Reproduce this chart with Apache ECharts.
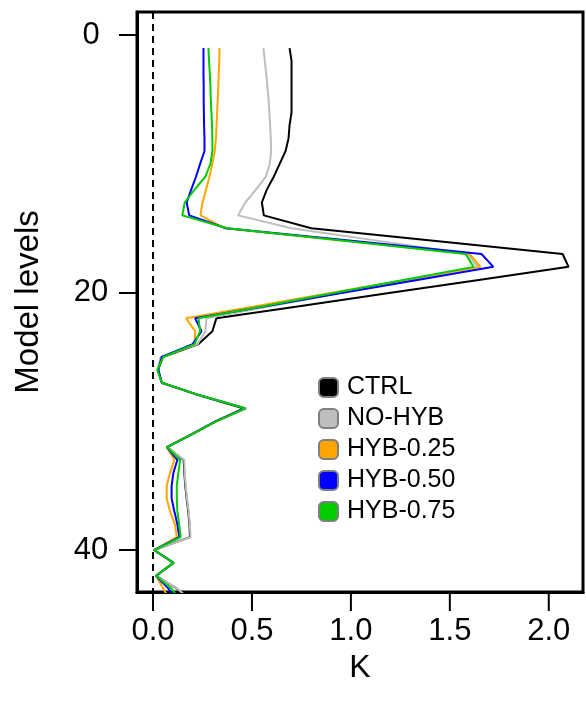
<!DOCTYPE html>
<html>
<head>
<meta charset="utf-8">
<script src="https://cdn.jsdelivr.net/npm/echarts@6/dist/echarts.min.js"></script>
<style>html,body{margin:0;padding:0;background:#fff}#c{width:586px;height:706px}</style>
</head>
<body>
<div id="c"></div>
<script>
const levels = [1,2,3,4,5,6,7,8,9,10,11,12,13,14,15,16,17,18,19,20,21,22,23,24,25,26,27,28,29,30,31,32,33,34,35,36,37,38,39,40,41,42,43,44];
const seriesNames = ['CTRL','NO-HYB','HYB-0.25','HYB-0.50','HYB-0.75'];
const colors = ['#000000','#bebebe','#ffa500','#0000ff','#00cd00'];
const ctrl = [0.69,0.70,0.70,0.70,0.70,0.70,0.69,0.685,0.67,0.64,0.61,0.575,0.55,0.56,0.80,1.43,2.07,2.10,1.655,1.21,0.765,0.32,0.30,0.23,0.05,0.025,0.044,0.24,0.47,0.318,0.198,0.071,0.155,0.158,0.163,0.17,0.178,0.184,0.187,0.006,0.105,0.016,0.12,0.2];
const noHyb = [0.558,0.565,0.572,0.578,0.584,0.588,0.592,0.595,0.597,0.59,0.57,0.52,0.466,0.43,0.70,1.15,1.59,1.64,1.2975,0.955,0.6125,0.27,0.265,0.225,0.038,0.022,0.044,0.24,0.47,0.318,0.198,0.072,0.158,0.16,0.165,0.172,0.18,0.186,0.19,0.006,0.105,0.016,0.122,0.2];
const hyb025 = [0.336,0.335,0.332,0.33,0.327,0.324,0.321,0.318,0.312,0.30,0.285,0.268,0.25,0.24,0.36,0.985,1.60,1.655,1.283,0.911,0.539,0.167,0.213,0.21,0.05,0.025,0.044,0.238,0.457,0.314,0.196,0.069,0.108,0.086,0.069,0.069,0.086,0.111,0.12,0.005,0.103,0.015,0.052,0.09];
const hyb050 = [0.255,0.255,0.255,0.256,0.256,0.257,0.258,0.26,0.26,0.238,0.217,0.193,0.17,0.183,0.37,1.015,1.66,1.72,1.343,0.967,0.59,0.213,0.245,0.20,0.044,0.027,0.044,0.238,0.46,0.315,0.197,0.07,0.123,0.103,0.094,0.094,0.108,0.123,0.133,0.005,0.103,0.015,0.078,0.12];
const hyb075 = [0.28,0.283,0.287,0.29,0.292,0.295,0.298,0.30,0.30,0.29,0.264,0.21,0.16,0.148,0.375,0.975,1.58,1.62,1.2725,0.925,0.5775,0.23,0.238,0.21,0.052,0.022,0.044,0.24,0.466,0.318,0.198,0.07,0.137,0.128,0.12,0.12,0.123,0.132,0.14,0.005,0.103,0.015,0.094,0.14];
const xTicks = [0,0.5,1,1.5,2];
const yTicks = [0,20,40];

const X_MIN = -0.081, X_MAX = 2.173, Y_MIN = -1.8, Y_MAX = 43.26;
const allValues = [ctrl,noHyb,hyb025,hyb050,hyb075];
const FONT = '"Liberation Sans", Arial, Helvetica, sans-serif';

const series = seriesNames.map((name,i)=>({
  name: name,
  type: 'line',
  data: allValues[i].map((v,j)=>[v, levels[j]]),
  symbol: 'none',
  showSymbol: false,
  clip: true,
  lineStyle: {color: colors[i], width: 2},
  itemStyle: {color: colors[i]},
  z: 3 + i
}));
series[0].markLine = {
  silent: true,
  symbol: ['none','none'],
  label: {show: false},
  lineStyle: {color: '#000', width: 2, type: [7,5]},
  data: [{xAxis: 0}]
};

const chart = echarts.init(document.getElementById('c'), null, {renderer: 'canvas'});
chart.setOption({
  animation: false,
  backgroundColor: '#fff',
  grid: {left: 137, right: 3, top: 12, bottom: 114, show: true, borderColor: '#000', borderWidth: 3, backgroundColor: 'transparent'},
  legend: {
    data: seriesNames,
    orient: 'vertical',
    left: 313, top: 370,
    icon: 'roundRect',
    itemWidth: 19, itemHeight: 19,
    itemGap: 6,
    itemStyle: {borderColor: '#7f7f7f', borderWidth: 2},
    textStyle: {fontSize: 25, color: '#000', fontFamily: FONT, padding: [0,0,0,4]},
    selectedMode: false
  },
  xAxis: {
    type: 'value', min: X_MIN, max: X_MAX, position: 'bottom',
    name: 'K', nameLocation: 'middle', nameGap: 55,
    nameTextStyle: {fontSize: 32, color: '#000', fontFamily: FONT},
    axisLine: {show: true, onZero: false, lineStyle: {color: '#000', width: 3}},
    splitLine: {show: false},
    axisTick: {show: false},
    axisLabel: {customValues: xTicks, margin: 24, fontSize: 31, color: '#000', fontFamily: FONT, formatter: v => v.toFixed(1)}
  },
  yAxis: {
    type: 'value', inverse: true, min: Y_MIN, max: Y_MAX, position: 'left',
    name: 'Model levels', nameLocation: 'middle', nameGap: 92, nameRotate: 90,
    nameTextStyle: {fontSize: 33, color: '#000', fontFamily: FONT},
    axisLine: {show: true, onZero: false, lineStyle: {color: '#000', width: 3}},
    splitLine: {show: false},
    axisTick: {show: true, inside: false, customValues: yTicks, length: 18, lineStyle: {color: '#000', width: 2}},
    axisLabel: {customValues: yTicks, margin: 46, align: 'center', fontSize: 31, color: '#000', fontFamily: FONT}
  },
  series: series
});

// bottom axis tick marks, placed through the chart's own x and y scales
const yBottom = chart.convertToPixel({yAxisIndex: 0}, Y_MAX);
chart.setOption({
  graphic: xTicks.map(v => {
    const px = chart.convertToPixel({xAxisIndex: 0}, v);
    return {type: 'line', silent: true, z: 100,
            shape: {x1: px, y1: yBottom, x2: px, y2: yBottom + 19},
            style: {stroke: '#000', lineWidth: 2}};
  })
});
</script>
</body>
</html>
